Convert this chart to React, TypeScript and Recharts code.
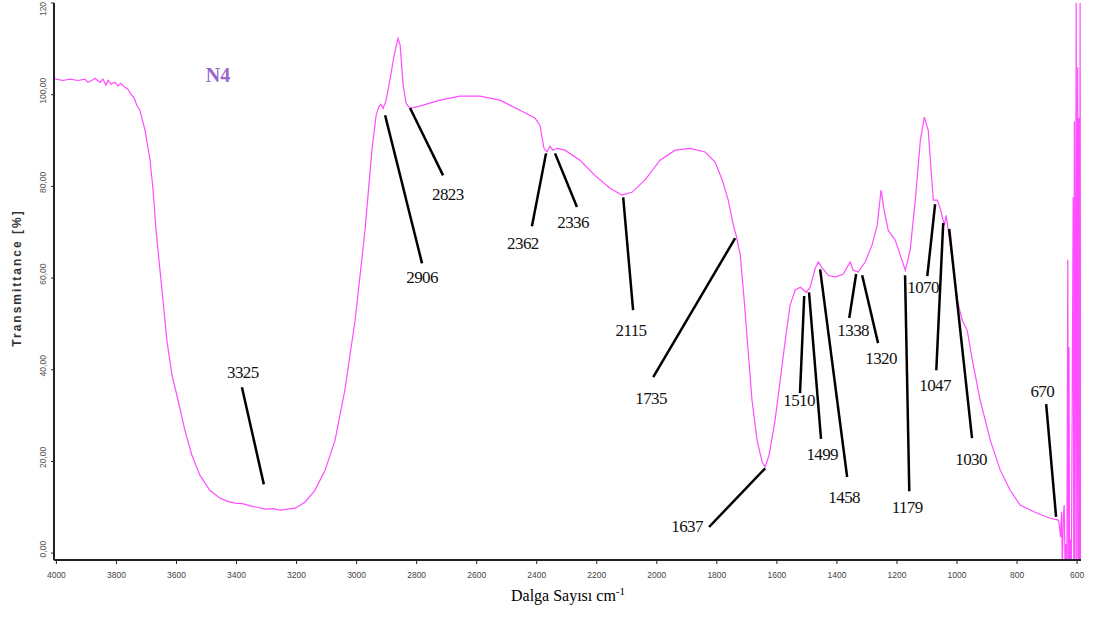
import React from 'react';
import { LineChart, Line, XAxis, YAxis, ReferenceLine, ReferenceDot } from 'recharts';

const wavenumbers = [
  4003, 4001, 3978, 3955, 3928, 3905, 3895, 3882, 3872, 3855, 3845, 3835, 3828, 3818, 3805, 3795,
  3785, 3772, 3762, 3752, 3742, 3732, 3722, 3705, 3688, 3678, 3668, 3655, 3645, 3632, 3615, 3595,
  3572, 3549, 3522, 3489, 3455, 3430, 3405, 3380, 3355, 3330, 3305, 3280, 3255, 3230, 3205, 3172,
  3139, 3105, 3072, 3039, 3005, 2972, 2949, 2935, 2925, 2919, 2912, 2902, 2889, 2875, 2862, 2855,
  2845, 2835, 2822, 2789, 2722, 2656, 2589, 2522, 2456, 2406, 2389, 2376, 2366, 2356, 2346, 2332,
  2306, 2256, 2206, 2156, 2116, 2083, 2039, 1989, 1939, 1889, 1839, 1806, 1782, 1762, 1745, 1736,
  1722, 1709, 1696, 1683, 1666, 1649, 1639, 1626, 1606, 1589, 1572, 1556, 1539, 1522, 1502, 1489,
  1472, 1462, 1449, 1429, 1405, 1379, 1356, 1346, 1329, 1306, 1283, 1266, 1253, 1243, 1229, 1206,
  1189, 1172, 1156, 1139, 1122, 1109, 1096, 1079, 1066, 1056, 1042, 1036, 1029, 1016, 999, 983,
  966, 949, 923, 889, 856, 823, 790, 740, 690, 663,
  660, 655, 652, 649, 646, 643, 640, 637, 634, 631, 629, 627, 625, 622, 619, 613, 611, 609, 607,
  603, 601, 598, 596, 594, 592, 590, 588,
];

const transmittance = [
  103.6, 103.4, 103.1, 103.4, 103.1, 103.4, 102.7, 103.1, 103.6, 102.7, 103.4, 102.1, 103.1, 102.3, 102.7, 101.9,
  102.5, 101.6, 101.2, 100.1, 99.4, 97.7, 96.6, 92.3, 85.7, 79.2, 70.4, 61.7, 55.2, 46.4, 38.8, 33.4,
  26.8, 21.4, 17.0, 13.7, 12.0, 11.3, 10.9, 10.8, 10.3, 10.0, 9.6, 9.7, 9.4, 9.6, 9.8, 11.1,
  13.7, 18.1, 24.6, 35.6, 50.8, 70.4, 87.9, 95.5, 97.5, 97.9, 97.0, 98.7, 103.2, 108.6, 112.3, 110.8,
  102.1, 98.1, 97.0, 97.5, 98.8, 99.7, 99.7, 98.8, 96.6, 94.9, 93.3, 88.3, 87.5, 88.8, 87.9, 88.3,
  87.9, 85.7, 82.4, 79.6, 78.1, 78.7, 81.4, 85.7, 87.9, 88.3, 87.5, 85.3, 81.4, 77.0, 71.5, 69.4,
  65.0, 55.2, 44.3, 33.4, 24.6, 19.8, 18.8, 21.4, 29.0, 37.7, 46.5, 54.1, 57.4, 58.0, 56.9, 58.0,
  62.2, 63.5, 62.2, 60.6, 60.2, 60.9, 63.5, 61.7, 61.3, 63.5, 67.2, 71.5, 79.2, 74.8, 70.4, 68.3,
  65.0, 61.7, 66.1, 77.0, 90.1, 95.1, 92.3, 77.0, 77.0, 75.2, 71.5, 73.7, 70.4, 63.9, 55.2, 50.8,
  48.6, 42.1, 33.4, 24.6, 18.1, 13.7, 10.5, 8.9, 7.6, 7.2,
  6.5, 3.5, 9.0, -3, 8.0, 10.5, -3, 2.0, -3, 64.0, -3, 44.9, -3, 3.0, -3, 77.6, -3, 94.2, -3,
  120, -3, 106, -3, 94.9, -3, 120, -3,
];

const xTicks = [4000, 3800, 3600, 3400, 3200, 3000, 2800, 2600, 2400, 2200, 2000, 1800, 1600, 1400, 1200, 1000, 800, 600];
const yTicks = [0, 20, 40, 60, 80, 100, 120];
const yTickLabels = ['0,00', '20,00', '40,00', '60,00', '80,00', '100,00', '120'];

// peak annotations: label, line start (on curve), line end, label centre — in data units
const peakLabels = ['3325', '2906', '2823', '2362', '2336', '2115', '1735', '1637', '1510', '1499', '1458', '1338', '1320', '1179', '1070', '1047', '1030', '670'];
const lineStart = [
  [3382, 36.2], [2905, 95.5], [2822, 97.1], [2369, 87.2], [2339, 87.2], [2112, 77.6], [1739, 68.7], [1639, 18.5],
  [1509, 56.1], [1493, 56.9], [1456, 61.9], [1336, 60.9], [1316, 60.6], [1173, 60.6], [1073, 76.1], [1046, 72.0],
  [1026, 70.7], [703, 32.5],
];
const lineEnd = [
  [3309, 15.0], [2782, 63.2], [2712, 82.4], [2416, 71.3], [2266, 75.5], [2079, 53.0], [2012, 38.4], [1826, 5.7],
  [1523, 34.9], [1453, 24.9], [1366, 16.6], [1359, 51.3], [1263, 45.8], [1159, 13.5], [1099, 60.4], [1069, 39.9],
  [950, 25.1], [670, 7.9],
];
const labelPos = [
  [3379, 39.3], [2782, 60.2], [2696, 78.3], [2446, 67.6], [2279, 72.2], [2086, 48.6], [2019, 33.8], [1899, 5.7],
  [1526, 33.2], [1449, 21.6], [1376, 12.2], [1346, 48.6], [1253, 42.5], [1166, 10.0], [1113, 58.0], [1073, 36.6],
  [953, 20.5], [716, 35.3],
];

const data = wavenumbers.map((w, i) => ({ w, t: transmittance[i] }));

const YTick = (props: any) => {
  const { y, payload } = props;
  const idx = yTicks.indexOf(payload.value);
  const cx = 43;
  const cy = payload.value === 120 ? Math.max(y - 4, 9) : y - 4;
  return (
    <text x={cx} y={cy} transform={`rotate(-90 ${cx} ${cy})`} textAnchor="middle" dominantBaseline="central"
      fontFamily="Liberation Sans, Arial, sans-serif" fontSize={8.5} fill="#555">
      {idx >= 0 ? yTickLabels[idx] : payload.value}
    </text>
  );
};

const XTick = (props: any) => {
  const { x, payload } = props;
  return (
    <text x={x} y={578} textAnchor="middle" fontFamily="Liberation Sans, Arial, sans-serif" fontSize={8.5} fill="#444">
      {payload.value}
    </text>
  );
};

export default function App() {
  return (
    <div style={{ position: 'absolute', left: 0, top: 0, width: 1094, height: 617, background: '#fff' }}>
      <LineChart width={1094} height={617} data={data} margin={{ top: 3, right: 13, bottom: 0, left: 0 }}>
        <XAxis
          dataKey="w"
          type="number"
          domain={[587, 4008]}
          reversed
          allowDataOverflow
          ticks={xTicks}
          interval={0}
          height={57}
          tick={<XTick />}
          tickSize={4}
          tickLine={{ stroke: '#222', strokeWidth: 1 }}
          axisLine={{ stroke: '#222', strokeWidth: 2 }}
        />
        <YAxis
          type="number"
          domain={[-1.5, 120]}
          allowDataOverflow
          ticks={yTicks}
          interval={0}
          width={54}
          tick={<YTick />}
          tickSize={3}
          tickLine={{ stroke: '#222', strokeWidth: 1 }}
          axisLine={{ stroke: '#222', strokeWidth: 2 }}
        />
        <Line
          type="linear"
          dataKey="t"
          stroke="#ff4dff"
          strokeWidth={1.2}
          dot={false}
          isAnimationActive={false}
        />
        {peakLabels.map((lab, i) => (
          <ReferenceLine
            key={'l' + lab}
            segment={[{ x: lineStart[i][0], y: lineStart[i][1] }, { x: lineEnd[i][0], y: lineEnd[i][1] }]}
            stroke="#000"
            strokeWidth={2.5}
          />
        ))}
        {peakLabels.map((lab, i) => (
          <ReferenceDot
            key={'d' + lab}
            x={labelPos[i][0]}
            y={labelPos[i][1]}
            r={0}
            shape={(p: any) => (
              <text x={p.cx} y={p.cy} textAnchor="middle" dominantBaseline="central"
                fontFamily="Liberation Serif, Times New Roman, serif" fontSize={17} letterSpacing={-0.6} fill="#111">
                {lab}
              </text>
            )}
          />
        ))}
        <text x={218} y={82} textAnchor="middle" fontFamily="Liberation Serif, Times New Roman, serif"
          fontWeight="bold" fontSize={20} fill="#9966cc">N4</text>
        <text x={17} y={278} transform="rotate(-90 17 278)" textAnchor="middle" dominantBaseline="central"
          fontFamily="Liberation Sans, Arial, sans-serif" fontWeight="bold" fontSize={12} letterSpacing={2} fill="#333">
          Transmittance [%]
        </text>
        <text x={568} y={601} textAnchor="middle" fontFamily="Liberation Serif, Times New Roman, serif" fontSize={16} fill="#000">
          Dalga Sayısı cm<tspan dy={-6} fontSize={11}>-1</tspan>
        </text>
      </LineChart>
    </div>
  );
}
